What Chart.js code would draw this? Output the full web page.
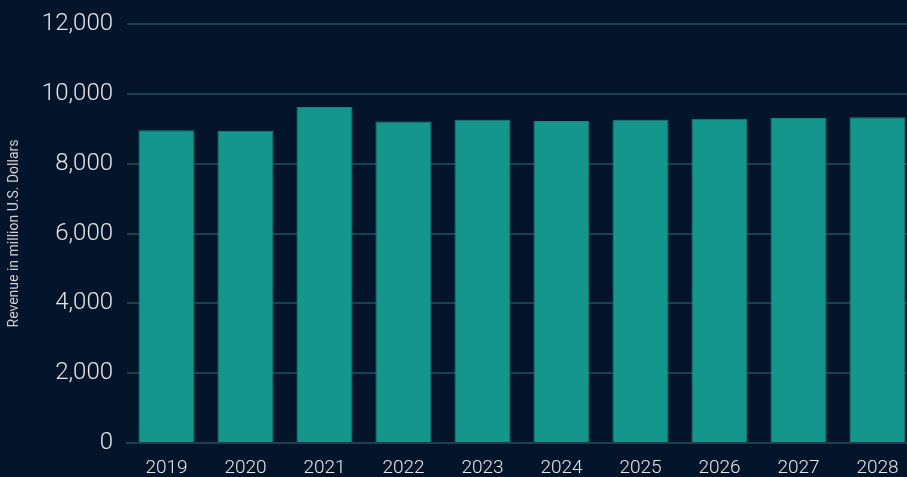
<!DOCTYPE html>
<html>
<head>
<meta charset="utf-8">
<script src="https://cdn.jsdelivr.net/npm/chart.js@4/dist/chart.umd.min.js"></script>
<style>
  html,body{margin:0;padding:0;background:#04142a;overflow:hidden;width:907px;height:477px}
  #wrap{width:917px;height:477px}
</style>
</head>
<body>
<div id="wrap"><canvas id="revChart" width="917" height="477"></canvas></div>
<script>
// revenue by year, million USD
const years = ['2019','2020','2021','2022','2023','2024','2025','2026','2027','2028'];
const revenue = [8960, 8940, 9620, 9205, 9255, 9220, 9255, 9285, 9310, 9330];
const yTicks = [0, 2000, 4000, 6000, 8000, 10000, 12000];

const ctx = document.getElementById('revChart').getContext('2d');
new Chart(ctx, {
  type: 'bar',
  data: {
    labels: years,
    datasets: [{
      data: revenue,
      backgroundColor: '#14968c',
      borderColor: '#1a827a',
      borderWidth: 1,
      barPercentage: 0.71,
      categoryPercentage: 1
    }]
  },
  options: {
    responsive: false,
    animation: false,
    layout: {padding: {top: 24, right: 0, left: 0, bottom: 0}},
    plugins: {legend: {display: false}, tooltip: {enabled: false}},
    scales: {
      x: {
        grid: {display: false, drawTicks: false},
        border: {display: true, color: '#1d3f52', width: 2},
        ticks: {color: '#e6e6e6', font: {family: 'Roboto', size: 19, weight: 300}, padding: 14, maxRotation: 0},
        afterFit: s => { s.height = 34; }
      },
      y: {
        min: 0, max: 12000,
        afterBuildTicks: s => { s.ticks = yTicks.map(v => ({value: v})); },
        grid: {color: '#1d3f52', lineWidth: 2, drawTicks: false},
        border: {display: false},
        ticks: {
          color: '#e6e6e6', padding: 14,
          font: {family: 'Roboto', size: 24, weight: 300},
          callback: v => v.toLocaleString('en-US')
        },
        title: {display: true, text: 'Revenue in million U.S. Dollars', color: '#d0d0d0',
          font: {family: 'Roboto', size: 14}, padding: {top: 6, bottom: 0}},
        afterFit: s => { s.width = 127; s.paddingTop = 0; s.paddingBottom = 0; }
      }
    }
  }
});
</script>
</body>
</html>
